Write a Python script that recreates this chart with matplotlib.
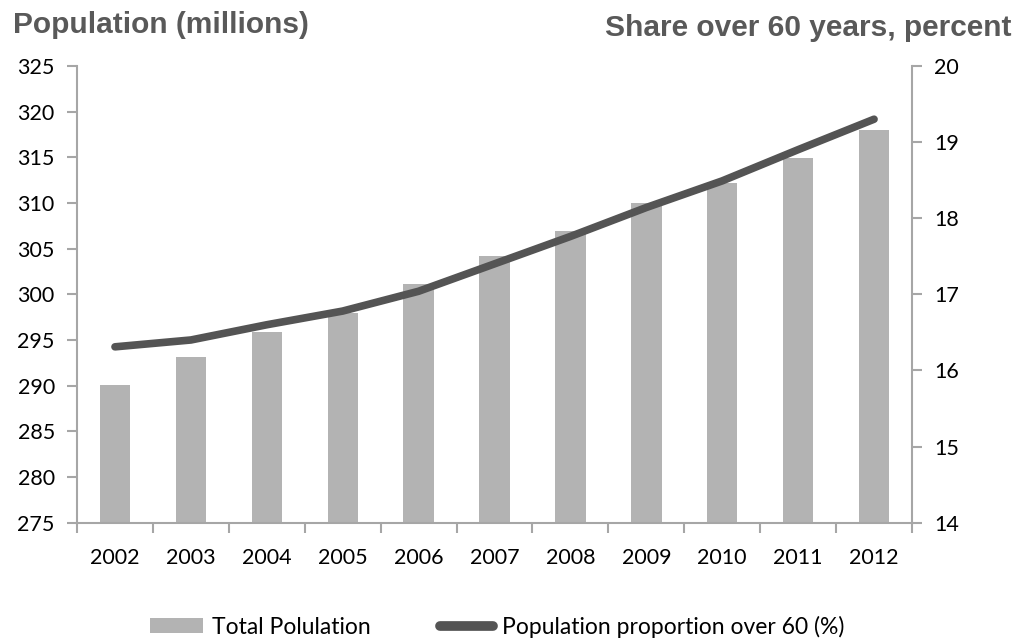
import matplotlib.pyplot as plt
from matplotlib.lines import Line2D
from matplotlib.patches import Patch
from matplotlib.ticker import MultipleLocator, FixedLocator, NullFormatter

years = ["2002", "2003", "2004", "2005", "2006", "2007", "2008", "2009", "2010", "2011", "2012"]
total_population = [290.1, 293.1, 295.9, 298.0, 301.1, 304.2, 306.9, 310.0, 312.2, 314.9, 318.0]
share_over_60 = [16.31, 16.40, 16.60, 16.78, 17.04, 17.40, 17.76, 18.14, 18.49, 18.90, 19.30]

BAR_COLOR = "#b3b3b3"
LINE_COLOR = "#545454"
SPINE_COLOR = "#a6a6a6"
TITLE_COLOR = "#595959"

plt.rcParams["font.family"] = ["Lato", "DejaVu Sans"]

fig = plt.figure(figsize=(10.19, 6.4), dpi=100)
ax = fig.add_axes([0.0756, 0.1833, 0.8194, 0.7137])
ax2 = ax.twinx()

x = list(range(len(years)))
ax.bar(x, total_population, width=0.4, color=BAR_COLOR, zorder=2)
ax2.plot(x, share_over_60, color=LINE_COLOR, linewidth=5.5,
         solid_capstyle="round", solid_joinstyle="round", zorder=3)

ax.set_xlim(-0.5, 10.5)
ax.set_ylim(275, 325)
ax2.set_ylim(14, 20)
ax.yaxis.set_major_locator(MultipleLocator(5))
ax2.yaxis.set_major_locator(MultipleLocator(1))

# category labels sit between the boundary ticks
ax.set_xticks(x)
ax.set_xticklabels(years)
ax.xaxis.set_minor_locator(FixedLocator([i - 0.5 for i in range(len(years) + 1)]))
ax.xaxis.set_minor_formatter(NullFormatter())
ax.tick_params(axis="x", which="major", length=0, pad=18, labelsize=15.5)
ax.tick_params(axis="x", which="minor", length=7, width=1.5, color=SPINE_COLOR)
ax.tick_params(axis="y", length=7, width=1.5, color=SPINE_COLOR, labelsize=15.5, pad=9)
ax2.tick_params(axis="y", length=7, width=1.5, color=SPINE_COLOR, labelsize=15.5, pad=9)

for a in (ax, ax2):
    a.spines["top"].set_visible(False)
    for side in ("left", "right", "bottom"):
        a.spines[side].set_color(SPINE_COLOR)
        a.spines[side].set_linewidth(1.5)
ax.spines["right"].set_visible(False)
ax2.spines["left"].set_visible(False)
ax2.spines["bottom"].set_visible(False)

fig.text(0.013, 0.961, "Population (millions)", fontsize=21.5, fontweight="bold",
         color=TITLE_COLOR, family=["Liberation Sans", "DejaVu Sans"], va="center")
fig.text(0.993, 0.956, "Share over 60 years, percent", fontsize=21.5, fontweight="bold",
         color=TITLE_COLOR, family=["Liberation Sans", "DejaVu Sans"], va="center", ha="right")

# legend keys: flat grey block and a thick rounded line
handles = [
    Patch(facecolor=BAR_COLOR, edgecolor="none", label="Total Polulation"),
    Line2D([], [], color=LINE_COLOR, linewidth=7, solid_capstyle="round",
           label="Population proportion over 60 (%)"),
]
fig.legend(handles=handles, loc="center", bbox_to_anchor=(0.488, 0.021), ncol=2,
           frameon=False, fontsize=16.5, handlelength=2.3, handleheight=0.6,
           columnspacing=3.0, handletextpad=0.4, borderpad=0.1)

fig.savefig("out.png", dpi=100)
